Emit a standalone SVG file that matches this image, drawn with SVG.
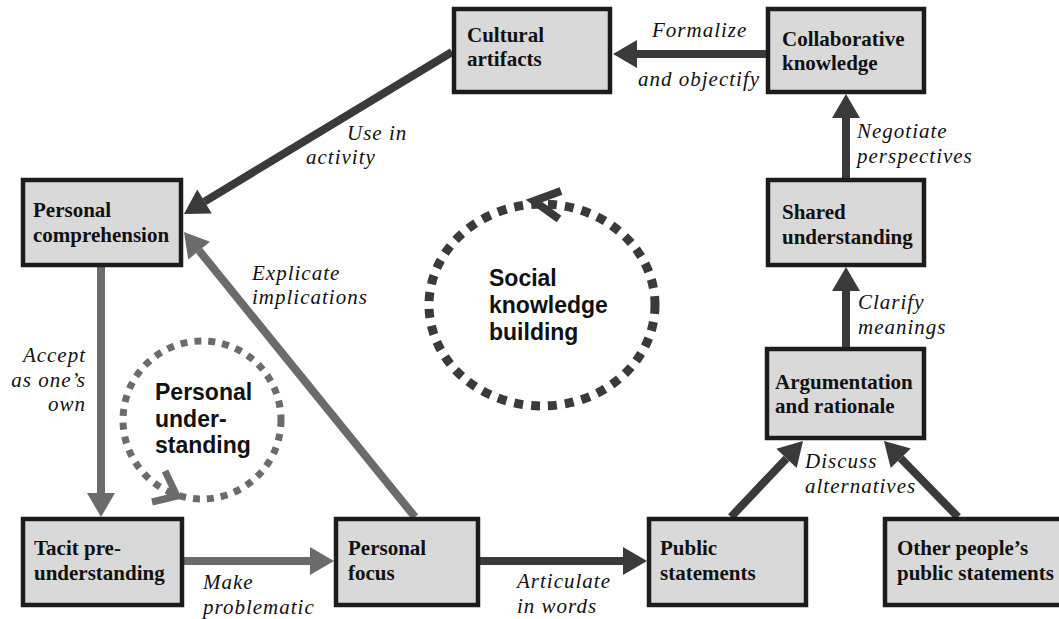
<svg xmlns="http://www.w3.org/2000/svg" width="1059" height="619" viewBox="0 0 1059 619">
<style>
.box{fill:#d9d9d9;stroke:#1c1c1c;stroke-width:4.5}
.bt{font-family:"Liberation Serif","Times New Roman",serif;font-weight:bold;font-size:21px;fill:#111}
.lt{font-family:"Liberation Serif","Times New Roman",serif;font-style:italic;font-size:21px;letter-spacing:1px;fill:#111}
.ct{font-family:"Liberation Sans",Arial,sans-serif;font-weight:bold;font-size:23px;fill:#111}
.cd{fill:none;stroke:#3a3a3a;stroke-width:8}
.cg{fill:none;stroke:#6b6b6b;stroke-width:8}
</style>
<defs>
<marker id="ad" markerUnits="userSpaceOnUse" markerWidth="26" markerHeight="30" refX="0" refY="14" orient="auto" overflow="visible"><path d="M0,0 L24,14 L0,28 Z" fill="#3a3a3a"/></marker>
<marker id="ag" markerUnits="userSpaceOnUse" markerWidth="26" markerHeight="30" refX="0" refY="14" orient="auto" overflow="visible"><path d="M0,0 L24,14 L0,28 Z" fill="#6b6b6b"/></marker>
</defs>
<rect width="1059" height="619" fill="#fff"/>
<g id="connectors">
<line class="cd" x1="766" y1="54" x2="637" y2="54" marker-end="url(#ad)"/>
<line class="cd" x1="452" y1="52" x2="204.5" y2="201.6" marker-end="url(#ad)"/>
<line class="cd" x1="846" y1="178" x2="846" y2="118" marker-end="url(#ad)"/>
<line class="cd" x1="846" y1="347" x2="846" y2="291" marker-end="url(#ad)"/>
<line class="cd" x1="731" y1="517" x2="786.5" y2="458.4" marker-end="url(#ad)"/>
<line class="cd" x1="958" y1="517" x2="900.7" y2="458.2" marker-end="url(#ad)"/>
<line class="cd" x1="480" y1="561" x2="623" y2="561" marker-end="url(#ad)"/>
<line class="cg" x1="184" y1="561" x2="310" y2="561" marker-end="url(#ag)"/>
<line class="cg" x1="101" y1="267" x2="101" y2="493" marker-end="url(#ag)"/>
<line class="cg" x1="415" y1="517" x2="199.1" y2="250.6" marker-end="url(#ag)"/>
</g>
<g id="social-cycle">
<ellipse cx="542" cy="305" rx="113" ry="101" fill="none" stroke="#3a3a3a" stroke-width="9" stroke-dasharray="9 8"/>
<polyline points="561,191 534,201 559,219" fill="none" stroke="#3a3a3a" stroke-width="8"/>
<text class="ct" x="489" y="286">Social</text>
<text class="ct" x="489" y="313">knowledge</text>
<text class="ct" x="489" y="340">building</text>
</g>
<g id="personal-cycle">
<circle cx="202" cy="420" r="79" fill="none" stroke="#6b6b6b" stroke-width="7" stroke-dasharray="7 7"/>
<polyline points="165,471 177,496 152,502" fill="none" stroke="#6b6b6b" stroke-width="7"/>
<text class="ct" x="155" y="400">Personal</text>
<text class="ct" x="155" y="427">under-</text>
<text class="ct" x="155" y="453">standing</text>
</g>
<g id="n-cultural"><rect class="box" x="454" y="9" width="156" height="83"/><text class="bt" x="467" y="42">Cultural</text><text class="bt" x="467" y="66">artifacts</text></g>
<g id="n-collab"><rect class="box" x="768" y="9" width="156" height="83"/><text class="bt" x="782" y="46">Collaborative</text><text class="bt" x="782" y="70">knowledge</text></g>
<g id="n-shared"><rect class="box" x="768" y="180" width="156" height="85"/><text class="bt" x="782" y="219">Shared</text><text class="bt" x="782" y="244">understanding</text></g>
<g id="n-argument"><rect class="box" x="767" y="349" width="157" height="89"/><text class="bt" x="775" y="389">Argumentation</text><text class="bt" x="775" y="413">and rationale</text></g>
<g id="n-public"><rect class="box" x="649" y="519" width="157" height="86"/><text class="bt" x="660" y="555">Public</text><text class="bt" x="660" y="580">statements</text></g>
<g id="n-other"><rect class="box" x="885" y="519" width="190" height="86"/><text class="bt" x="897" y="555">Other people’s</text><text class="bt" x="897" y="580">public statements</text></g>
<g id="n-comprehension"><rect class="box" x="23" y="180" width="158" height="85"/><text class="bt" x="33" y="217">Personal</text><text class="bt" x="33" y="242">comprehension</text></g>
<g id="n-tacit"><rect class="box" x="23" y="519" width="159" height="86"/><text class="bt" x="34" y="555">Tacit pre-</text><text class="bt" x="34" y="580">understanding</text></g>
<g id="n-focus"><rect class="box" x="336" y="519" width="142" height="86"/><text class="bt" x="348" y="555">Personal</text><text class="bt" x="348" y="580">focus</text></g>
<g id="labels">
<text class="lt" x="652" y="37">Formalize</text>
<text class="lt" x="638" y="86">and objectify</text>
<text class="lt" x="857" y="138">Negotiate</text>
<text class="lt" x="857" y="163">perspectives</text>
<text class="lt" x="858" y="309">Clarify</text>
<text class="lt" x="858" y="334">meanings</text>
<text class="lt" x="805" y="468">Discuss</text>
<text class="lt" x="805" y="493">alternatives</text>
<text class="lt" x="347" y="140">Use in</text>
<text class="lt" x="306" y="164">activity</text>
<text class="lt" x="252" y="280">Explicate</text>
<text class="lt" x="252" y="304">implications</text>
<text class="lt" x="86" y="362" text-anchor="end">Accept</text>
<text class="lt" x="86" y="387" text-anchor="end">as one’s</text>
<text class="lt" x="86" y="411" text-anchor="end">own</text>
<text class="lt" x="203" y="589">Make</text>
<text class="lt" x="203" y="614">problematic</text>
<text class="lt" x="517" y="588">Articulate</text>
<text class="lt" x="517" y="613">in words</text>
</g>
</svg>
